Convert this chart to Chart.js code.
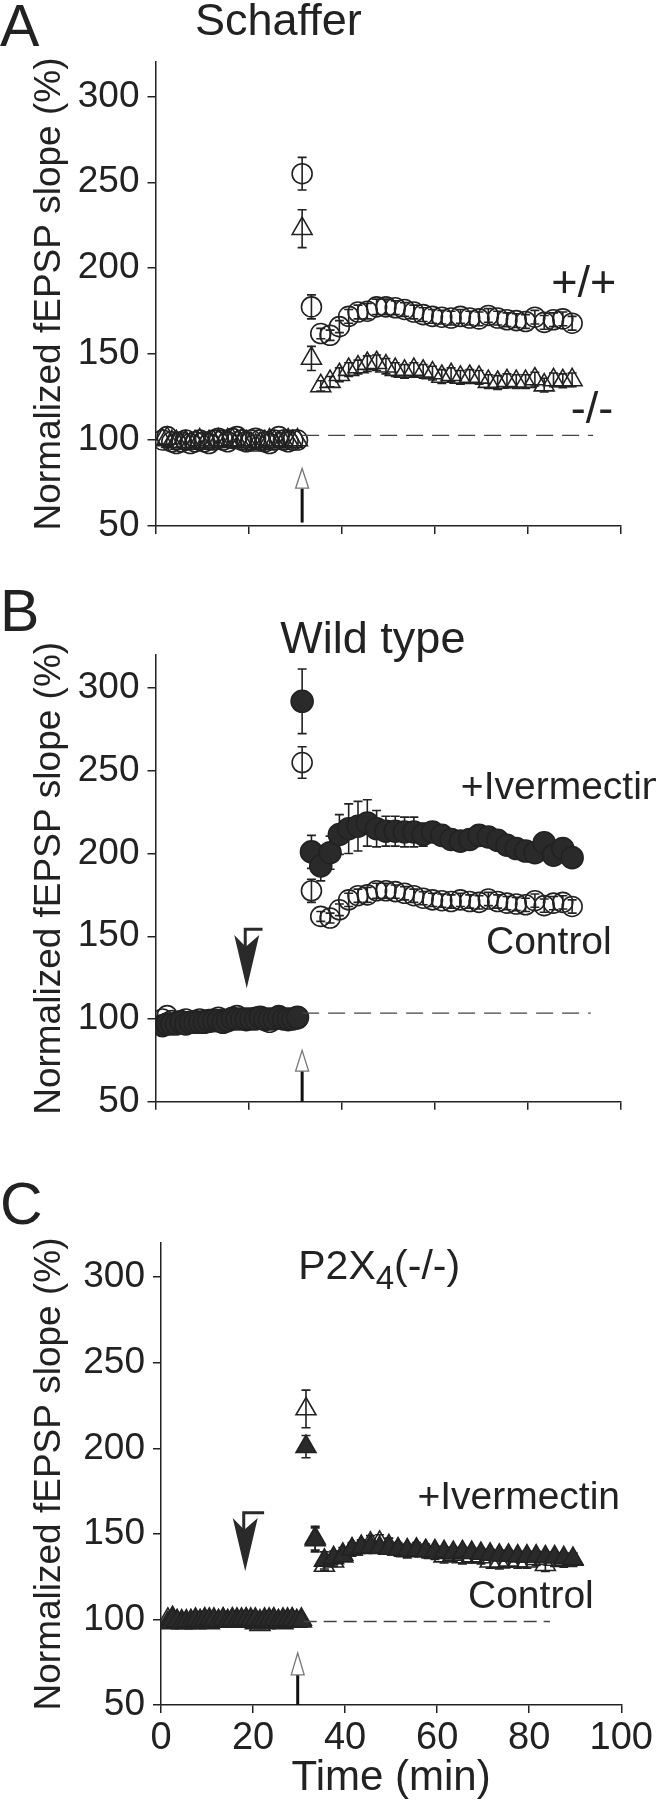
<!DOCTYPE html>
<html>
<head>
<meta charset="utf-8">
<script src="https://cdn.jsdelivr.net/npm/chart.js@4.4.1/dist/chart.umd.min.js"></script>
<style>
  body { margin: 0; background: #fff; width: 656px; height: 1800px; position: relative; overflow: hidden;
         font-family: "Liberation Sans", Arial, sans-serif; color: #222; }
  canvas { position: absolute; left: 0; }
  .lab { position: absolute; left: 0; font-size: 59px; line-height: 1; }
</style>
</head>
<body>
<div class="lab" style="top:-3px">A</div>
<div class="lab" style="top:582px">B</div>
<div class="lab" style="top:1175px">C</div>
<canvas id="chartA" width="656" height="560" style="top:0"></canvas>
<canvas id="chartB" width="656" height="580" style="top:560px"></canvas>
<canvas id="chartC" width="656" height="660" style="top:1140px"></canvas>
<script>
// time points (min)
const baseTime = [1.5, 2.5, 3.5, 4.5, 5.5, 6.5, 7.5, 8.5, 9.5, 10.5, 11.5, 12.5, 13.5, 14.5, 15.5,
  16.5, 17.5, 18.5, 19.5, 20.5, 21.5, 22.5, 23.5, 24.5, 25.5, 26.5, 27.5, 28.5, 29.5, 30.5];
const postTime = [31.5, 33.5, 35.5, 37.5, 39.5, 41.5, 43.5, 45.5, 47.5, 49.5, 51.5, 53.5, 55.5, 57.5, 59.5,
  61.5, 63.5, 65.5, 67.5, 69.5, 71.5, 73.5, 75.5, 77.5, 79.5, 81.5, 83.5, 85.5, 87.5, 89.5];

// +/+ (control, open circles)
const wtBase = [100, 102, 99, 98, 99, 100, 98, 99, 100, 99, 98, 100, 101, 100, 99, 101, 102, 100, 99, 100,
  101, 100, 99, 98, 100, 102, 100, 99, 100, 100];
const wtPost = [255, 177.5, 162, 161, 166, 172, 174.5, 175, 177.5, 177.5, 177, 176, 174.5, 173, 172,
  171.5, 171, 172, 171, 170.5, 172.5, 171, 170, 169.5, 169, 171.5, 168.5, 170, 170.5, 168];
const wtErr = [9.5, 7, 3, 3, 3.5, 4, 4, 4.5, 4.5, 4.5, 4, 4, 4, 4, 4, 4, 4, 4, 4, 4, 4, 4, 4, 4, 4, 4, 4, 4, 4, 4];

// -/- (control, open triangles)
const koBase = [100, 101, 99, 99, 98, 99, 98, 99, 100, 98, 99, 99, 100, 99, 100, 100, 99, 100, 99, 98,
  97, 98, 99, 100, 99, 98, 99, 100, 99, 100];
const koPost = [223, 147.5, 131.5, 134, 138, 141, 142.5, 144.5, 145, 143, 141, 140, 141, 140, 139,
  137, 138, 136.5, 137, 136.5, 134, 133.5, 134.5, 134, 134, 135.5, 132, 135, 134.5, 135];
const koErr = [11, 7, 3, 3, 4, 4, 4, 4.5, 4.5, 4.5, 4, 4, 4, 4, 4, 4, 4, 4, 4, 4, 4, 4, 4, 4, 4, 4, 4, 4, 4, 4];

// wild type + ivermectin (filled circles)
const ivWtBase = [96, 97, 97, 97, 98, 97, 98, 98, 98, 98, 99, 99, 99, 98, 99, 100, 100, 100, 100, 100,
  100, 101, 100, 100, 100, 101, 100, 100, 100, 101];
const ivWtPost = [292, 201, 192.5, 200.5, 211.5, 215, 216.5, 218.5, 215, 213.5, 213.5, 213, 213, 211.5, 213,
  211, 208.5, 207.5, 208.5, 211, 210, 208, 205, 203, 201.5, 200.5, 206.5, 199, 203, 197.5];
const ivWtErr = [19.5, 10, 9, 10, 12, 15, 15, 14, 11, 9, 9, 9, 9, 7, 6, 6, 6, 6, 6, 5, 5, 5, 5, 5, 4, 4, 4, 4, 4, 4];

// P2X4(-/-) + ivermectin (filled triangles)
const ivKoBase = [98, 100, 99, 98, 99, 99, 100, 99, 100, 100, 100, 99, 100, 99, 100, 99, 100, 100, 100, 100,
  99, 100, 100, 100, 99, 100, 100, 100, 99, 99];
const ivKoPost = [201, 146.5, 134.5, 136, 137, 141, 142, 142.5, 142, 141.5, 141, 140.5, 140.5, 140, 140,
  139.5, 139, 139.5, 139, 138.5, 138, 137.5, 137.5, 137, 137, 137, 136.5, 136.5, 136, 135.5];
const ivKoErr = [6.5, 7, 5, 4, 3, 3, 3, 3, 3, 3, 3, 3, 3, 3, 3, 3, 3, 3, 3, 3, 3, 3, 3, 3, 3, 3, 3, 3, 3, 3];

const yTicks = [50, 100, 150, 200, 250, 300];
const xTicks = [0, 20, 40, 60, 80, 100];

const FONT = '"Liberation Sans", Arial, sans-serif';
const INK = '#222';

const series = (base, post) => baseTime.concat(postTime).map((x, i) => ({x: x, y: base.concat(post)[i]}));

function marker(label, base, post, err, style, filled, r) {
  return {
    label: label,
    data: series(base, post),
    errors: err,
    errStart: baseTime.length,
    pointStyle: style,
    pointRadius: r,
    pointBorderWidth: 1.6,
    pointBorderColor: INK,
    pointBackgroundColor: filled ? '#2a2a2a' : 'rgba(0,0,0,0)',
    showLine: false
  };
}

// error bars, drawn under the markers
const errorBars = {
  id: 'errorBars',
  beforeDatasetsDraw(chart) {
    const {ctx, scales: {x, y}} = chart;
    ctx.save();
    ctx.strokeStyle = INK;
    ctx.lineWidth = 1.6;
    chart.data.datasets.forEach(ds => {
      if (!ds.errors) return;
      ds.errors.forEach((e, i) => {
        const p = ds.data[ds.errStart + i];
        const px = x.getPixelForValue(p.x);
        const top = y.getPixelForValue(p.y + e);
        const bot = y.getPixelForValue(p.y - e);
        ctx.beginPath();
        ctx.moveTo(px, top); ctx.lineTo(px, bot);
        ctx.moveTo(px - 4.5, top); ctx.lineTo(px + 4.5, top);
        ctx.moveTo(px - 4.5, bot); ctx.lineTo(px + 4.5, bot);
        ctx.stroke();
      });
    });
    ctx.restore();
  }
};

// dashed baseline, stimulus arrow, drug arrow and labels
const notes = {
  id: 'notes',
  afterDraw(chart, args, o) {
    const {ctx, scales: {x, y}} = chart;
    ctx.save();
    // dashed 100% line
    ctx.strokeStyle = '#444';
    ctx.lineWidth = 1.3;
    ctx.setLineDash(o.dash.pattern);
    ctx.beginPath();
    ctx.moveTo(x.getPixelForValue(o.dash.x0), y.getPixelForValue(o.dash.y));
    ctx.lineTo(x.getPixelForValue(o.dash.x1), y.getPixelForValue(o.dash.y));
    ctx.stroke();
    ctx.setLineDash([]);

    // stimulus arrow (open head)
    const sx = x.getPixelForValue(o.stim.x);
    const hTop = y.getPixelForValue(o.stim.top), hBot = y.getPixelForValue(o.stim.bot);
    ctx.strokeStyle = '#111';
    ctx.lineWidth = 3;
    ctx.beginPath();
    ctx.moveTo(sx, hBot); ctx.lineTo(sx, y.getPixelForValue(o.stim.stem));
    ctx.stroke();
    ctx.fillStyle = '#fff';
    ctx.strokeStyle = '#777';
    ctx.lineWidth = 1.3;
    ctx.beginPath();
    ctx.moveTo(sx, hTop); ctx.lineTo(sx + 6.5, hBot); ctx.lineTo(sx - 6.5, hBot); ctx.closePath();
    ctx.fill(); ctx.stroke();

    // ivermectin application arrow
    if (o.drug) {
      const d = o.drug;
      const cx = x.getPixelForValue(d.x);
      const t = y.getPixelForValue(d.top), a = y.getPixelForValue(d.apex);
      const ny = t + (a - t) * 0.22;
      ctx.fillStyle = '#2a2a2a';
      ctx.beginPath();
      ctx.moveTo(cx - 12.5, t); ctx.lineTo(cx - 1, ny); ctx.lineTo(cx + 12.5, t); ctx.lineTo(cx, a);
      ctx.closePath();
      ctx.fill();
      ctx.strokeStyle = '#2a2a2a';
      ctx.lineWidth = 3;
      ctx.beginPath();
      const fy = y.getPixelForValue(d.flagTop);
      ctx.moveTo(cx - 1.5, ny + 2); ctx.lineTo(cx - 1.5, fy); ctx.lineTo(x.getPixelForValue(d.flagRight), fy);
      ctx.stroke();
    }

    // text
    ctx.fillStyle = INK;
    ctx.textBaseline = 'middle';
    o.texts.forEach(tx => {
      ctx.font = tx.size + 'px ' + FONT;
      let px = x.getPixelForValue(tx.x);
      const py = y.getPixelForValue(tx.y);
      if (tx.sub) {
        const subFont = Math.round(tx.size * 0.8) + 'px ' + FONT;
        const w0 = ctx.measureText(tx.t).width, w2 = ctx.measureText(tx.rest).width;
        ctx.font = subFont;
        const w1 = ctx.measureText(tx.sub).width;
        px -= (w0 + w1 + w2) / 2;
        ctx.textAlign = 'left';
        ctx.font = tx.size + 'px ' + FONT;
        ctx.fillText(tx.t, px, py);
        ctx.font = subFont;
        ctx.fillText(tx.sub, px + w0, py + tx.size * 0.3);
        ctx.font = tx.size + 'px ' + FONT;
        ctx.fillText(tx.rest, px + w0 + w1, py);
      } else {
        ctx.textAlign = tx.align || 'left';
        ctx.fillText(tx.t, px, py);
      }
    });
    ctx.restore();
  }
};

function makeChart(id, p) {
  return new Chart(document.getElementById(id), {
    type: 'scatter',
    data: {datasets: p.datasets},
    options: {
      responsive: false,
      animation: false,
      events: [],
      layout: {padding: {top: p.top, right: p.right, left: 0, bottom: 0}, autoPadding: false},
      plugins: {legend: {display: false}, tooltip: {enabled: false}, notes: p.notes},
      scales: {
        x: {
          type: 'linear', min: 0, max: 100,
          afterBuildTicks: s => { s.ticks = xTicks.map(v => ({value: v})); },
          afterFit: s => { s.height = p.xh; },
          grid: {drawOnChartArea: false, drawTicks: true, tickLength: 8, color: INK, lineWidth: 1.5},
          border: {color: INK, width: 1.5},
          ticks: {display: p.xLabels, color: INK, padding: 3, maxRotation: 0, font: {family: FONT, size: 38}},
          title: {display: p.xLabels, text: 'Time (min)', color: INK, padding: {top: 0, bottom: 1},
                  font: {family: FONT, size: 42, lineHeight: 1}}
        },
        y: {
          type: 'linear', min: 50, max: 320,
          afterBuildTicks: s => { s.ticks = yTicks.map(v => ({value: v})); },
          afterFit: s => { s.width = p.yw; },
          grid: {drawOnChartArea: false, drawTicks: true, tickLength: 8, color: INK, lineWidth: 1.5},
          border: {color: INK, width: 1.5},
          ticks: {color: INK, padding: 8, font: {family: FONT, size: 37}},
          title: {display: true, text: 'Normalized fEPSP slope (%)', color: INK, padding: {top: 31.5, bottom: 0},
                  font: {family: FONT, size: 37, lineHeight: 1}}
        }
      }
    },
    plugins: [errorBars, notes]
  });
}

makeChart('chartA', {
  top: 62, right: 35, yw: 155.5, xh: 34, xLabels: false,
  datasets: [
    marker('+/+', wtBase, wtPost, wtErr, 'circle', false, 10),
    marker('-/-', koBase, koPost, koErr, 'triangle', false, 11.5)
  ],
  notes: {
    dash: {y: 102.7, x0: 31.5, x1: 94, pattern: [17, 9]},
    stim: {x: 31.5, top: 83.5, bot: 72, stem: 52},
    texts: [
      {t: 'Schaffer', x: 26.4, y: 343, size: 45, align: 'center'},
      {t: '+/+', x: 85, y: 190.7, size: 45},
      {t: '-/-', x: 89.2, y: 117, size: 45}
    ]
  }
});

makeChart('chartB', {
  top: 95, right: 35, yw: 155.5, xh: 38.3, xLabels: false,
  datasets: [
    marker('+Ivermectin', ivWtBase, ivWtPost, ivWtErr, 'circle', true, 11),
    marker('Control', wtBase, wtPost, wtErr, 'circle', false, 10)
  ],
  notes: {
    dash: {y: 103.5, x0: 31.5, x1: 93.5, pattern: [17, 9]},
    stim: {x: 31.5, top: 81, bot: 68.5, stem: 50},
    drug: {x: 19.6, top: 150.8, apex: 118.6, flagTop: 154.2, flagRight: 23},
    texts: [
      {t: 'Wild type', x: 46.7, y: 329, size: 45, align: 'center'},
      {t: '+Ivermectin', x: 65.6, y: 239.5, size: 39},
      {t: 'Control', x: 71, y: 145.5, size: 39}
    ]
  }
});

makeChart('chartC', {
  top: 103, right: 27, yw: 161, xh: 95, xLabels: true,
  datasets: [
    marker('+Ivermectin', ivKoBase, ivKoPost, ivKoErr, 'triangle', true, 11.5),
    marker('Control', koBase, koPost, koErr, 'triangle', false, 11.5)
  ],
  notes: {
    dash: {y: 98.8, x0: 31, x1: 84.5, pattern: [13, 7]},
    stim: {x: 29.7, top: 80.4, bot: 67.6, stem: 50},
    drug: {x: 18.3, top: 159.3, apex: 128.2, flagTop: 162.3, flagRight: 22.4},
    texts: [
      {t: 'P2X', sub: '4', rest: '(-/-)', x: 47.4, y: 305.8, size: 41},
      {t: '+Ivermectin', x: 55.7, y: 171, size: 39},
      {t: 'Control', x: 66.7, y: 113, size: 39}
    ]
  }
});
</script>
</body>
</html>
